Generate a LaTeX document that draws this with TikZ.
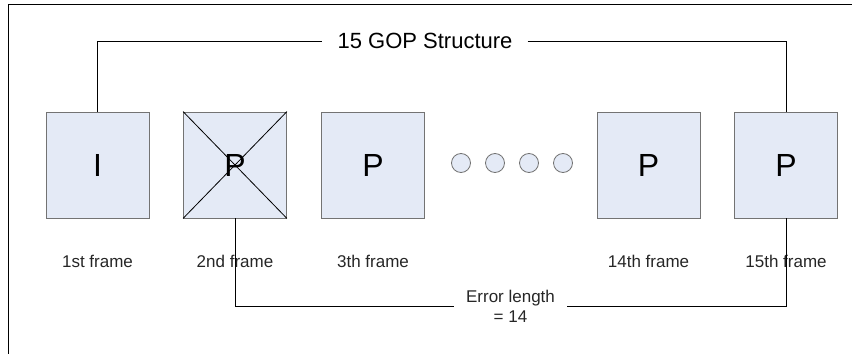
\documentclass[tikz,border=0pt]{standalone}
\usepackage{fontspec}
\setmainfont{Liberation Sans}
\begin{document}
\begin{tikzpicture}[x=1pt,y=1pt,
  framebox/.style={draw=black!55, fill=boxfill, line width=0.9pt,
    minimum width=103pt, minimum height=106pt, inner sep=0pt,
    font=\fontsize{32}{36}\selectfont},
  dot/.style={circle, draw=black!55, fill=boxfill, line width=0.8pt,
    minimum size=19pt, inner sep=0pt},
  caption/.style={anchor=base, font=\fontsize{17}{20}\selectfont, text=black!85},
  link/.style={draw=black, line width=0.9pt}]
\definecolor{boxfill}{RGB}{228,234,246}
\useasboundingbox (0,0) rectangle (852,354);
% outer frame edges
\draw[line width=0.9pt] (852,350) -- (8,350) -- (8,0);

% frames of the group of pictures
\node[framebox] (b1)  at (97.5,189) {I};
\node[framebox] (b2)  at (235,189)  {};
\node[framebox] (b3)  at (373,189)  {P};
\node[framebox] (b14) at (648.5,189) {P};
\node[framebox] (b15) at (786,189)  {P};

% lost frame: crossed out
\draw[line width=0.8pt] (b2.north west) -- (b2.south east);
\draw[line width=0.8pt] (b2.south west) -- (b2.north east);
\node[font=\fontsize{32}{36}\selectfont, inner sep=0pt] (p2) at (b2.center) {P};

% skipped frames
\node[dot] (d1) at (461,191) {};
\node[dot] (d2) at (495,191) {};
\node[dot] (d3) at (529,191) {};
\node[dot] (d4) at (563,191) {};

% frame captions
\node[caption] (c1)  at (97.5,87)  {1st frame};
\node[caption] (c2)  at (235,87)   {2nd frame};
\node[caption] (c3)  at (373,87)   {3th frame};
\node[caption] (c14) at (648.5,87) {14th frame};
\node[caption] (c15) at (786,87)   {15th frame};

% GOP span
\node[font=\fontsize{22}{26}\selectfont, inner xsep=15pt, inner ysep=0pt] (gop) at (425,313) {15 GOP Structure};
\draw[link] (b1.north) |- (gop.west);
\draw[link] (gop.east) -| (b15.north);

% error propagation span
\node[font=\fontsize{17}{20}\selectfont, align=center, inner xsep=12pt, inner ysep=0pt, text=black!85] (err) at (510.5,48) {Error length\\= 14};
\draw[link] (b2.south) |- (err.west);
\draw[link] (err.east) -| (b15.south);
\end{tikzpicture}
\end{document}
